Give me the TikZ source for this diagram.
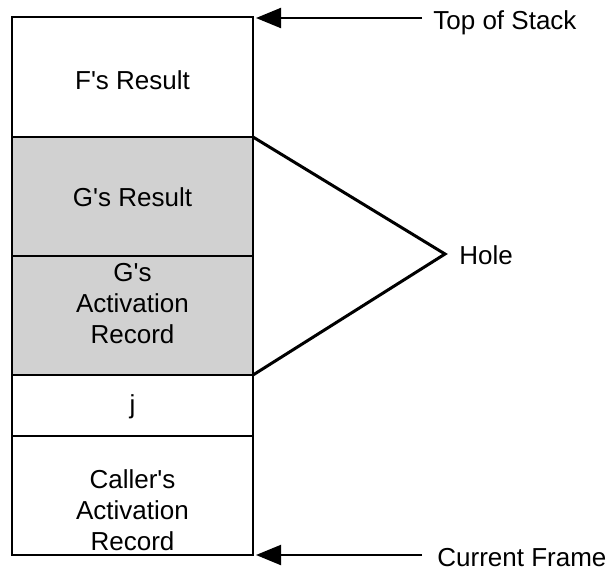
\documentclass[tikz,border=0pt]{standalone}
\usepackage{fontspec}
\setmainfont{Liberation Sans}
\usetikzlibrary{arrows.meta}
\definecolor{holegray}{gray}{0.82}

\begin{document}
\begin{tikzpicture}[x=1pt,y=-1pt,thick,
  cell/.style={draw,line width=2pt,minimum width=241pt,inner sep=0pt,outer sep=0pt},
  word/.style={font=\fontsize{26}{31}\selectfont,align=center,inner sep=0pt},
  ptr/.style={-{Triangle[length=25pt,width=20pt]},line width=2pt,shorten >=3pt}]
\useasboundingbox (0,0) rectangle (612,571);

% stack cells, top to bottom
\node[cell,minimum height=120pt] (fres) at (132.5,77) {};
\node[cell,fill=holegray,minimum height=119pt] (gres) at (132.5,196.5) {};
\node[cell,fill=holegray,minimum height=119pt] (gact) at (132.5,315.5) {};
\node[cell,minimum height=61pt] (jcell) at (132.5,405.5) {};
\node[cell,minimum height=119pt] (caller) at (132.5,495.5) {};

\node[word] (fresl) at (132.5,80) {F\textquotesingle s Result};
\node[word] (gresl) at (132.5,197) {G\textquotesingle s Result};
\node[word] (gactl) at (132.5,304) {G\textquotesingle s\\Activation\\Record};
\node[word] (jl) at (132.5,407) {j};
\node[word] (callerl) at (132.5,510) {Caller\textquotesingle s\\Activation\\Record};

% pointers
\node[word,anchor=base west] (tos) at (433,29) {Top of Stack};
\node[word,anchor=base west] (cur) at (437,566) {Current Frame};
\coordinate (tosend) at (422,18);
\coordinate (curend) at (422,555);
\draw[ptr] (tosend) -- (tosend -| fres.east);
\draw[ptr] (curend) -- (curend -| caller.east);

% the hole
\node[word,anchor=base west] (hole) at (459,264) {Hole};
\coordinate (tip) at (445,254);
\draw[line width=3pt,line join=miter] (gres.north east) -- (tip) -- (gact.south east);

\end{tikzpicture}
\end{document}
